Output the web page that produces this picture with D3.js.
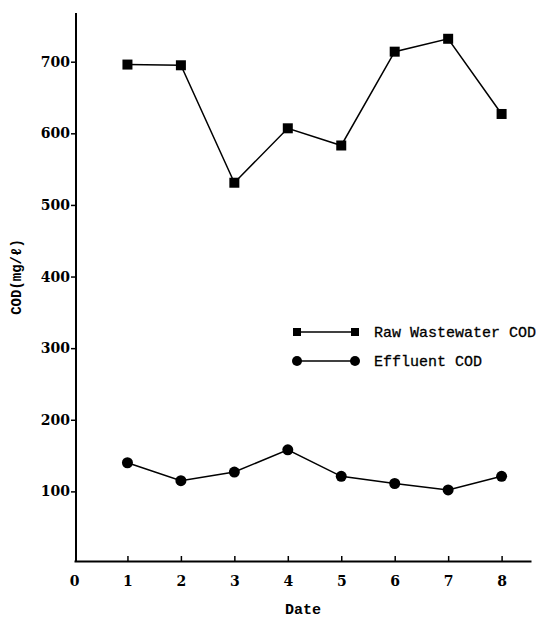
<!DOCTYPE html>
<html>
<head>
<meta charset="utf-8">
<script src="https://cdn.jsdelivr.net/npm/d3@7"></script>
<style>
  body { margin: 0; background: #fff; }
  svg { display: block; }
  .tick text { font-family: 'DejaVu Serif', serif; font-weight: bold; }
</style>
</head>
<body>
<svg id="chart" width="546" height="618"></svg>
<script>
const dates = [1, 2, 3, 4, 5, 6, 7, 8]
const rawCod = [696, 695, 531, 607, 583, 714, 732, 627]
const effluentCod = [140, 115, 127, 158, 121, 111, 102, 121]
const xTicks = [0, 1, 2, 3, 4, 5, 6, 7, 8]
const yTicks = [100, 200, 300, 400, 500, 600, 700]
const seriesNames = ['Raw Wastewater COD', 'Effluent COD']

const svg = d3.select('#chart')
const mono = "'Liberation Mono', monospace"

const x = d3.scaleLinear().domain([0, 8.55]).range([74, 531])
const y = d3.scaleLinear().domain([0, 768]).range([563, 13])

// axes
const xAxis = svg.append('g')
  .attr('transform', `translate(0, ${y(0) - 2})`)
  .call(d3.axisBottom(x).tickValues(xTicks).tickFormat(d3.format('d')).tickSize(-5).tickSizeOuter(0))
xAxis.select('.domain').attr('stroke-width', 2)
xAxis.selectAll('.tick line').attr('stroke-width', 1.5)
xAxis.selectAll('.tick').filter(d => d === 0).select('line').remove()
xAxis.selectAll('.tick text').attr('font-size', 14).attr('dy', '1.6em')

const yAxis = svg.append('g')
  .attr('transform', `translate(${x(0) + 2}, 0)`)
  .call(d3.axisLeft(y).tickValues(yTicks).tickSize(5).tickSizeOuter(0))
yAxis.select('.domain').attr('stroke-width', 2)
  .attr('d', `M0,${y(0) - 2}V${y(768)}`)
yAxis.selectAll('.tick line').attr('stroke-width', 1.5)
yAxis.selectAll('.tick text').attr('font-size', 14).attr('x', -6)

// axis labels
svg.append('text')
  .attr('x', 303).attr('y', 614)
  .attr('text-anchor', 'middle')
  .style('font-family', mono).style('font-weight', 'bold').style('font-size', '15px')
  .text('Date')

svg.append('text')
  .attr('transform', 'translate(21, 277) rotate(-90)')
  .attr('text-anchor', 'middle')
  .style('font-family', mono).style('font-weight', 'bold').style('font-size', '14px')
  .text('COD(mg/ℓ)')

const line = d3.line().x((d, i) => x(dates[i])).y(d => y(d))

// raw wastewater
svg.append('path').datum(rawCod)
  .attr('d', line).attr('fill', 'none').attr('stroke', '#000').attr('stroke-width', 1.5)
svg.selectAll('.raw').data(rawCod).enter().append('rect')
  .attr('class', 'raw')
  .attr('x', (d, i) => x(dates[i]) - 5).attr('y', d => y(d) - 5)
  .attr('width', 10).attr('height', 10).attr('fill', '#000')

// effluent
svg.append('path').datum(effluentCod)
  .attr('d', line).attr('fill', 'none').attr('stroke', '#000').attr('stroke-width', 1.5)
svg.selectAll('.eff').data(effluentCod).enter().append('circle')
  .attr('class', 'eff')
  .attr('cx', (d, i) => x(dates[i])).attr('cy', d => y(d))
  .attr('r', 5.5).attr('fill', '#000')

// legend
const legend = svg.append('g').attr('transform', 'translate(297, 332)')
seriesNames.forEach((name, i) => {
  const g = legend.append('g').attr('transform', `translate(0, ${i * 29})`)
  g.append('line').attr('x1', 0).attr('x2', 58).attr('stroke', '#000').attr('stroke-width', 1.5)
  if (i === 0) {
    g.selectAll('rect').data([0, 58]).enter().append('rect')
      .attr('x', d => d - 4).attr('y', -4).attr('width', 8).attr('height', 8).attr('fill', '#000')
  } else {
    g.selectAll('circle').data([0, 58]).enter().append('circle')
      .attr('cx', d => d).attr('r', 5).attr('fill', '#000')
  }
  g.append('text')
    .attr('x', 77).attr('y', 5)
    .style('font-family', mono).style('font-size', '15px')
    .style('stroke', '#000').style('stroke-width', 0.3)
    .text(name)
})
</script>
</body>
</html>
